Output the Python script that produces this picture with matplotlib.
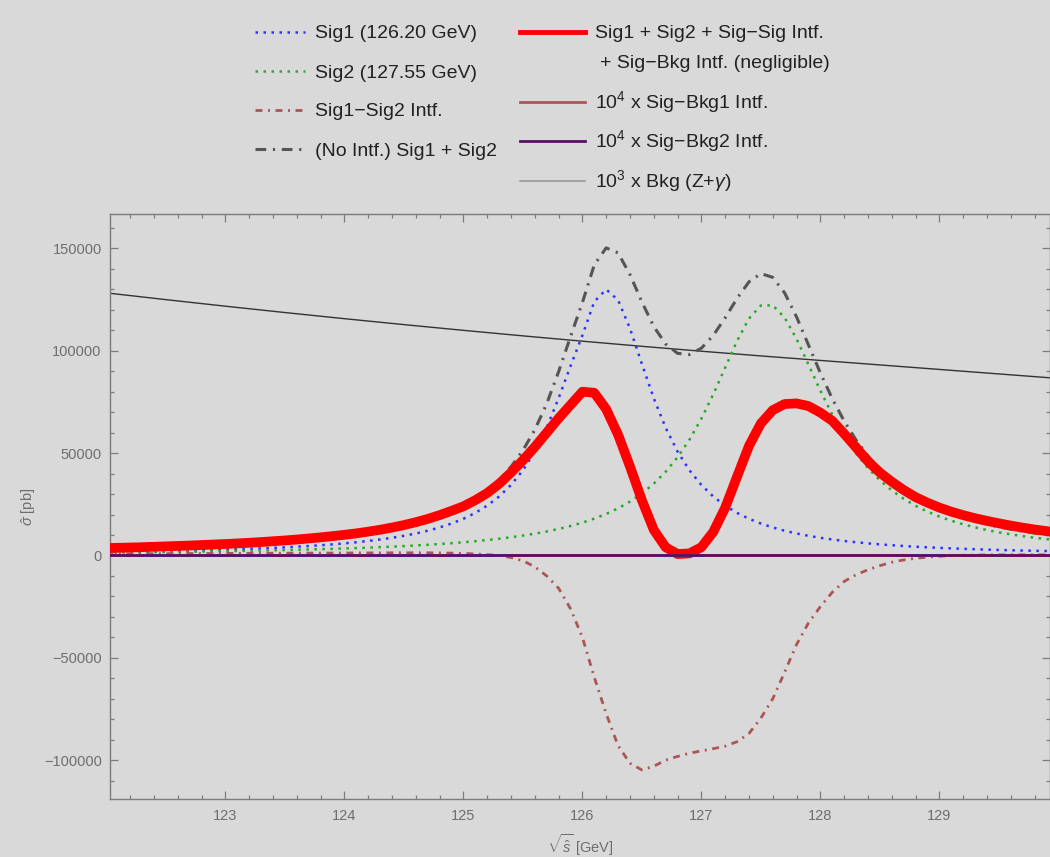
import numpy as np
import matplotlib
matplotlib.use("Agg")
import matplotlib.pyplot as plt
from matplotlib.lines import Line2D
from matplotlib.ticker import MultipleLocator

plt.rcParams["font.family"] = ["Liberation Sans", "DejaVu Sans"]
plt.rcParams["mathtext.fontset"] = "custom"
plt.rcParams["mathtext.rm"] = "Liberation Sans"
plt.rcParams["mathtext.it"] = "Liberation Sans:italic"
plt.rcParams["mathtext.bf"] = "Liberation Sans:bold"

# sqrt(s) grid in GeV
energy = [122.0, 122.1, 122.2, 122.3, 122.4, 122.5, 122.6, 122.7, 122.8, 122.9,
          123.0, 123.1, 123.2, 123.3, 123.4, 123.5, 123.6, 123.7, 123.8, 123.9,
          124.0, 124.1, 124.2, 124.3, 124.4, 124.5, 124.6, 124.7, 124.8, 124.9,
          125.0, 125.1, 125.2, 125.3, 125.4, 125.5, 125.6, 125.7, 125.8, 125.9,
          126.0, 126.1, 126.2, 126.3, 126.4, 126.5, 126.6, 126.7, 126.8, 126.9,
          127.0, 127.1, 127.2, 127.3, 127.4, 127.5, 127.6, 127.7, 127.8, 127.9,
          128.0, 128.1, 128.2, 128.3, 128.4, 128.5, 128.6, 128.7, 128.8, 128.9,
          129.0, 129.1, 129.2, 129.3, 129.4, 129.5, 129.6, 129.7, 129.8, 129.9, 130.0]

# cross sections in pb
sig1 = [1676, 1758, 1845, 1940, 2042, 2152, 2271, 2400, 2540, 2693,
        2861, 3044, 3245, 3467, 3711, 3983, 4285, 4622, 5000, 5426,
        5908, 6455, 7081, 7800, 8632, 9600, 10735, 12077, 13677, 15600,
        17935, 20800, 24351, 28800, 34427, 41600, 50766, 62400, 76800, 92500,
        107500, 124000, 130000, 124800, 110933, 93600, 76800, 62400, 50766, 41600,
        34427, 28800, 24351, 20800, 17935, 15600, 13677, 12077, 10735, 9600,
        8632, 7800, 7081, 6455, 5908, 5426, 5000, 4622, 4285, 3983,
        3711, 3467, 3245, 3044, 2861, 2693, 2540, 2400, 2271, 2152, 2042]

sig2 = [1421, 1473, 1528, 1586, 1647, 1712, 1781, 1854, 1932, 2015,
        2103, 2196, 2297, 2404, 2519, 2642, 2774, 2917, 3071, 3237,
        3417, 3612, 3824, 4055, 4307, 4584, 4887, 5222, 5591, 6000,
        6455, 6962, 7531, 8170, 8892, 9711, 10644, 11714, 12947, 14377,
        16043, 18000, 20289, 23033, 26318, 30277, 35073, 40905, 48000, 56588,
        66838, 78720, 91772, 104805, 115765, 122152, 122205, 116198, 105798, 93275,
        80561, 68833, 58596, 49932, 42715, 36740, 31798, 27700, 24285, 21424,
        19012, 16966, 15218, 13717, 12420, 11293, 10308, 9443, 8680, 8004, 7403]

sig_sig_intf = [800, 820, 840, 860, 880, 900, 920, 940, 960, 980,
                1000, 1020, 1040, 1060, 1080, 1100, 1120, 1140, 1160, 1180,
                1200, 1220, 1240, 1260, 1280, 1300, 1300, 1300, 1250, 1150,
                1000, 750, 400, 0, -1000, -2600, -5500, -10000, -16000, -26000,
                -40000, -59500, -77300, -93000, -101500, -104800, -103000, -100000, -98200, -96600,
                -95500, -94400, -93200, -91000, -87000, -79500, -70000, -57000, -43500, -33000,
                -25000, -18000, -12700, -9400, -7000, -5000, -3300, -2200, -1400, -800,
                -400, -100, 100, 200, 250, 300, 300, 300, 300, 300, 300]

total = [3600, 3750, 3900, 4050, 4250, 4450, 4650, 4850, 5100, 5350,
         5600, 5900, 6200, 6550, 6950, 7350, 7800, 8300, 8850, 9450,
         10100, 10800, 11650, 12550, 13650, 14850, 16250, 17850, 19700, 21800,
         24000, 27000, 30500, 35000, 40500, 46500, 53000, 60000, 67000, 73500,
         80000, 79500, 71500, 59000, 43500, 27000, 12500, 4000, 700, 1000,
         4000, 11500, 23300, 38500, 53500, 64500, 71000, 74000, 74300, 73000,
         69800, 65800, 59500, 52800, 46000, 40500, 36000, 32000, 28500, 25800,
         23400, 21400, 19700, 18200, 16900, 15700, 14600, 13600, 12700, 11900, 11100]

# coarse grid for the smooth background and the (negligible) sig-bkg pieces
energy_coarse = [122.0, 122.5, 123.0, 123.5, 124.0, 124.5, 125.0, 125.5, 126.0,
                 126.5, 127.0, 127.5, 128.0, 128.5, 129.0, 129.5, 130.0]
bkg_x1e3 = [128300, 125000, 121800, 118700, 115700, 112800, 110000, 107300, 104700,
            102200, 99800, 97500, 95300, 93100, 90900, 88700, 86500]
sig_bkg1_x1e4 = [0] * len(energy_coarse)
sig_bkg2_x1e4 = [0] * len(energy_coarse)

no_intf = np.array(sig1) + np.array(sig2)

BG = "#d9d9d9"
FRAME = "#7c7c7c"
LABEL = "#6e6e6e"
TEXT = "#222222"
BLUE = "#2f2fff"
GREEN = "#25a825"
BROWN = "#ad5555"
GRAY = "#555555"
RED = "#ff0000"
PURPLE = "#5a0d6a"
BKG = "#333333"

sty_sig1 = dict(color=BLUE, lw=1.8, linestyle=(0, (1, 2.2)))
sty_sig2 = dict(color=GREEN, lw=1.8, linestyle=(0, (1, 2.2)))
sty_intf = dict(color=BROWN, lw=2.0, linestyle=(0, (2.5, 2, 0.7, 2)))
sty_noint = dict(color=GRAY, lw=2.2, linestyle=(0, (3.5, 2.2, 0.7, 2.2)))
sty_total = dict(color=RED, lw=7, solid_joinstyle="round", solid_capstyle="round")
sty_sb1 = dict(color=BROWN, lw=2.0)
sty_sb2 = dict(color=PURPLE, lw=2.0)
sty_bkg = dict(color=BKG, lw=1.0)

W, H = 1050, 857
fig = plt.figure(figsize=(W / 100, H / 100), dpi=100, facecolor=BG)
ax = fig.add_axes([110 / W, 1 - 799 / H, 1 - 110 / W, (799 - 214.3) / H])
ax.set_facecolor(BG)

ax.plot(energy_coarse, bkg_x1e3, zorder=2, **sty_bkg)
ax.plot(energy, sig1, zorder=2, **sty_sig1)
ax.plot(energy, sig2, zorder=2, **sty_sig2)
ax.plot(energy, sig_sig_intf, zorder=2, **sty_intf)
ax.plot(energy, no_intf, zorder=2, **sty_noint)
ax.plot(energy, total, zorder=3, **sty_total)
ax.plot(energy_coarse, sig_bkg1_x1e4, zorder=4, **sty_sb1)
ax.plot(energy_coarse, sig_bkg2_x1e4, zorder=4, **sty_sb2)

ax.set_xlim(122.03, 129.93)
ax.set_ylim(-119000, 166700)

ax.xaxis.set_major_locator(MultipleLocator(1))
ax.xaxis.set_minor_locator(MultipleLocator(0.2))
ax.yaxis.set_major_locator(MultipleLocator(50000))
ax.yaxis.set_minor_locator(MultipleLocator(10000))
ax.tick_params(which="both", direction="in", top=True, right=True,
               color=FRAME, labelcolor=LABEL, labelsize=10.5, width=0.9)
ax.tick_params(which="major", length=5.5)
ax.tick_params(which="minor", length=3.2)
ax.tick_params(axis="y", pad=6)
ax.tick_params(axis="x", pad=7)
ax.yaxis.set_major_formatter(plt.FuncFormatter(lambda v, p: f"{int(v)}".replace("-", "\u2212")))
for s in ax.spines.values():
    s.set_color(FRAME)
    s.set_linewidth(1.0)

ax.set_xlabel(r"$\sqrt{\hat{s}}$ [GeV]", color=LABEL, fontsize=10.5)
ax.set_ylabel(r"$\hat{\sigma}$ [pb]", color=LABEL, fontsize=10.5)
ax.xaxis.set_label_coords(0.5, -0.056)
ax.yaxis.set_label_coords(-0.077, 0.5)


def legend_row(x0, x1, y, tx, text, style=None):
    fy = 1 - y / H
    if style is not None:
        fig.add_artist(Line2D([x0 / W, x1 / W], [fy, fy], transform=fig.transFigure, **style))
    fig.text(tx / W, 1 - (y + 6.5) / H, text, fontsize=14, color=TEXT,
             ha="left", va="baseline")


# left column
legend_row(255, 305, 32, 315, "Sig1 (126.20 GeV)", sty_sig1)
legend_row(255, 305, 71, 315, "Sig2 (127.55 GeV)", sty_sig2)
legend_row(255, 305, 110, 315, "Sig1\u2212Sig2 Intf.", sty_intf)
legend_row(255, 305, 149, 315, "(No Intf.) Sig1 + Sig2", sty_noint)

# right column
legend_row(520, 585, 32, 595, "Sig1 + Sig2 + Sig\u2212Sig Intf.", dict(color=RED, lw=3.5))
legend_row(520, 585, 61, 600, "+ Sig\u2212Bkg Intf. (negligible)")
legend_row(520, 585, 102, 595, "$\\mathregular{10^4}$ x Sig\u2212Bkg1 Intf.", sty_sb1)
legend_row(520, 585, 141, 595, "$\\mathregular{10^4}$ x Sig\u2212Bkg2 Intf.", sty_sb2)
legend_row(520, 585, 181, 595, "$\\mathregular{10^3}$ x Bkg (Z+$\\gamma$)", dict(color="#999999", lw=1.2))

fig.savefig("out.png", dpi=100, facecolor=BG)
